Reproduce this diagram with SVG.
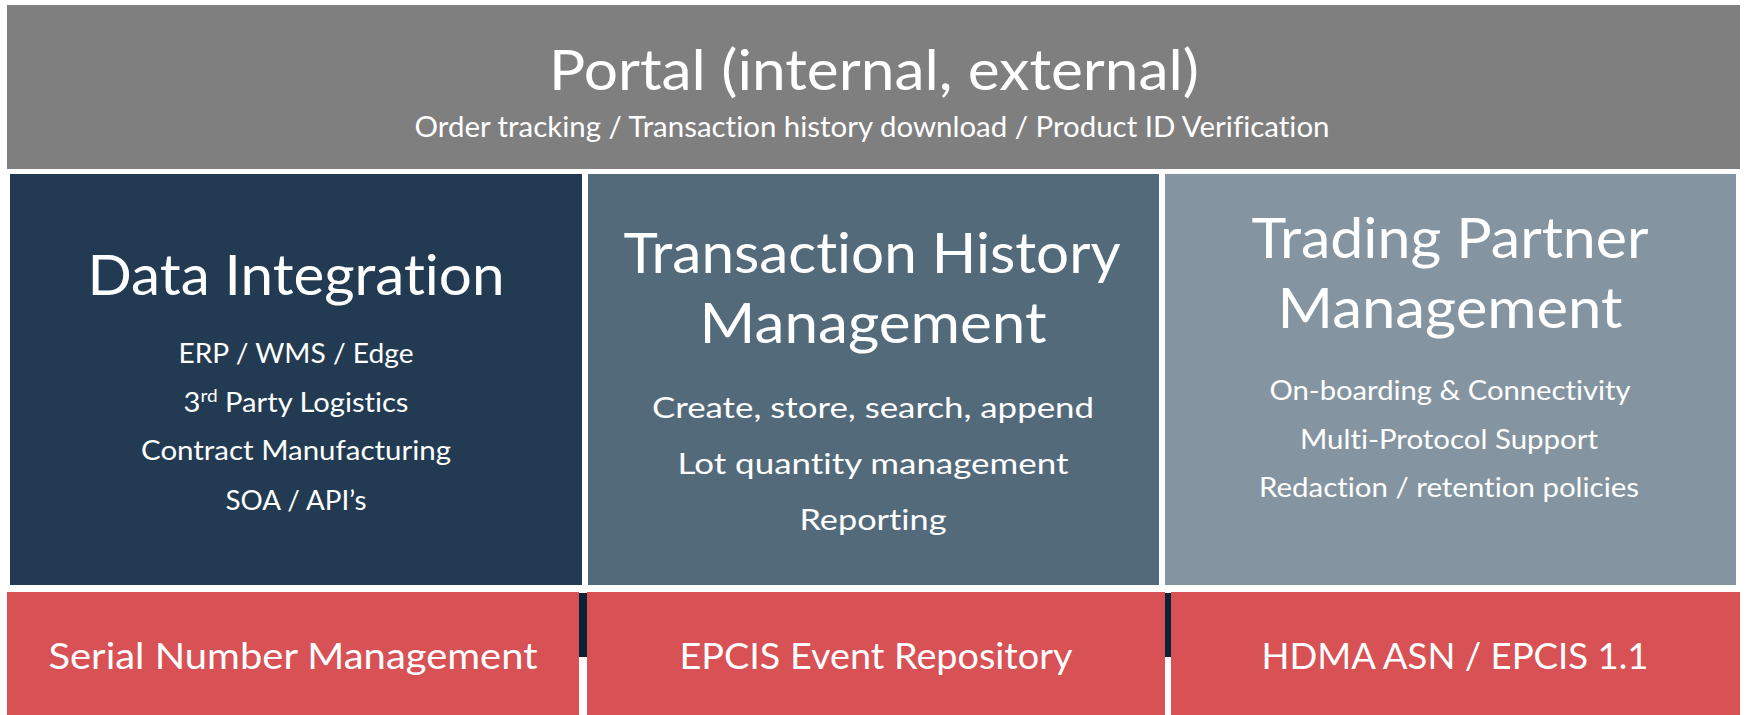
<svg xmlns="http://www.w3.org/2000/svg" width="1746" height="715" viewBox="0 0 1746 715">
  <style>
    text { font-family: Lato, "Open Sans", "Liberation Sans", sans-serif; fill: #ffffff; text-anchor: middle; font-variant-ligatures: none; font-feature-settings: "liga" 0, "dlig" 0; }
    .title { font-size: 57px; }
    .portal { font-size: 56px; }
    .sub { font-size: 28px; }
    .item { font-size: 26px; }
    .itemL { font-size: 29px; }
    .base { font-size: 37px; }
    .sup { font-size: 17px; }
  </style>
  <rect width="1746" height="715" fill="#ffffff"/>

  <!-- top bar -->
  <g id="portal">
    <rect x="7" y="5" width="1733" height="164" fill="#7f7f7f"/>
    <text class="portal" x="874" y="90" textLength="650" lengthAdjust="spacingAndGlyphs">Portal (internal, external)</text>
    <text class="sub" x="872" y="137" textLength="915" lengthAdjust="spacingAndGlyphs">Order tracking / Transaction history download / Product ID Verification</text>
  </g>

  <!-- dark joints behind the bottom row -->
  <g id="joints">
    <rect x="579" y="593" width="8" height="64" fill="#0c2239"/>
    <rect x="1165" y="593" width="6" height="64" fill="#0c2239"/>
  </g>

  <g id="data-integration">
    <rect x="10" y="174" width="572" height="411" fill="#223b52"/>
    <text class="title" x="296" y="295" textLength="417" lengthAdjust="spacingAndGlyphs">Data Integration</text>
    <text class="item" x="296" y="363" textLength="235" lengthAdjust="spacingAndGlyphs">ERP / WMS / Edge</text>
    <text class="item" x="296" y="412" textLength="225" lengthAdjust="spacingAndGlyphs">3<tspan class="sup" baseline-shift="super">rd</tspan> Party Logistics</text>
    <text class="item" x="296" y="460" textLength="310" lengthAdjust="spacingAndGlyphs">Contract Manufacturing</text>
    <text class="item" x="296" y="510" textLength="141" lengthAdjust="spacingAndGlyphs">SOA / API’s</text>
  </g>

  <g id="transaction-history">
    <rect x="588" y="174" width="571" height="411" fill="#536a7b"/>
    <text class="title" x="872" y="273" textLength="497" lengthAdjust="spacingAndGlyphs">Transaction History</text>
    <text class="title" x="873" y="343" textLength="347" lengthAdjust="spacingAndGlyphs">Management</text>
    <text class="itemL" x="873" y="418" textLength="442" lengthAdjust="spacingAndGlyphs">Create, store, search, append</text>
    <text class="itemL" x="873" y="474" textLength="391" lengthAdjust="spacingAndGlyphs">Lot quantity management</text>
    <text class="itemL" x="873" y="530" textLength="147" lengthAdjust="spacingAndGlyphs">Reporting</text>
  </g>

  <g id="trading-partner">
    <rect x="1165" y="174" width="571" height="411" fill="#8495a1"/>
    <text class="title" x="1450" y="258" textLength="397" lengthAdjust="spacingAndGlyphs">Trading Partner</text>
    <text class="title" x="1450" y="328" textLength="345" lengthAdjust="spacingAndGlyphs">Management</text>
    <text class="item" x="1450" y="400" textLength="361" lengthAdjust="spacingAndGlyphs">On-boarding &amp; Connectivity</text>
    <text class="item" x="1449" y="449" textLength="298" lengthAdjust="spacingAndGlyphs">Multi-Protocol Support</text>
    <text class="item" x="1449" y="497" textLength="380" lengthAdjust="spacingAndGlyphs">Redaction / retention policies</text>
  </g>

  <g id="serial-number">
    <rect x="7" y="592" width="572" height="123" fill="#d85155"/>
    <text class="base" x="293" y="669" textLength="489" lengthAdjust="spacingAndGlyphs">Serial Number Management</text>
  </g>

  <g id="epcis-repository">
    <rect x="587" y="592" width="578" height="123" fill="#d85155"/>
    <text class="base" x="876" y="669" textLength="393" lengthAdjust="spacingAndGlyphs">EPCIS Event Repository</text>
  </g>

  <g id="hdma-asn">
    <rect x="1171" y="592" width="569" height="123" fill="#d85155"/>
    <text class="base" x="1455" y="669" textLength="387" lengthAdjust="spacingAndGlyphs">HDMA ASN / EPCIS 1.1</text>
  </g>
</svg>
